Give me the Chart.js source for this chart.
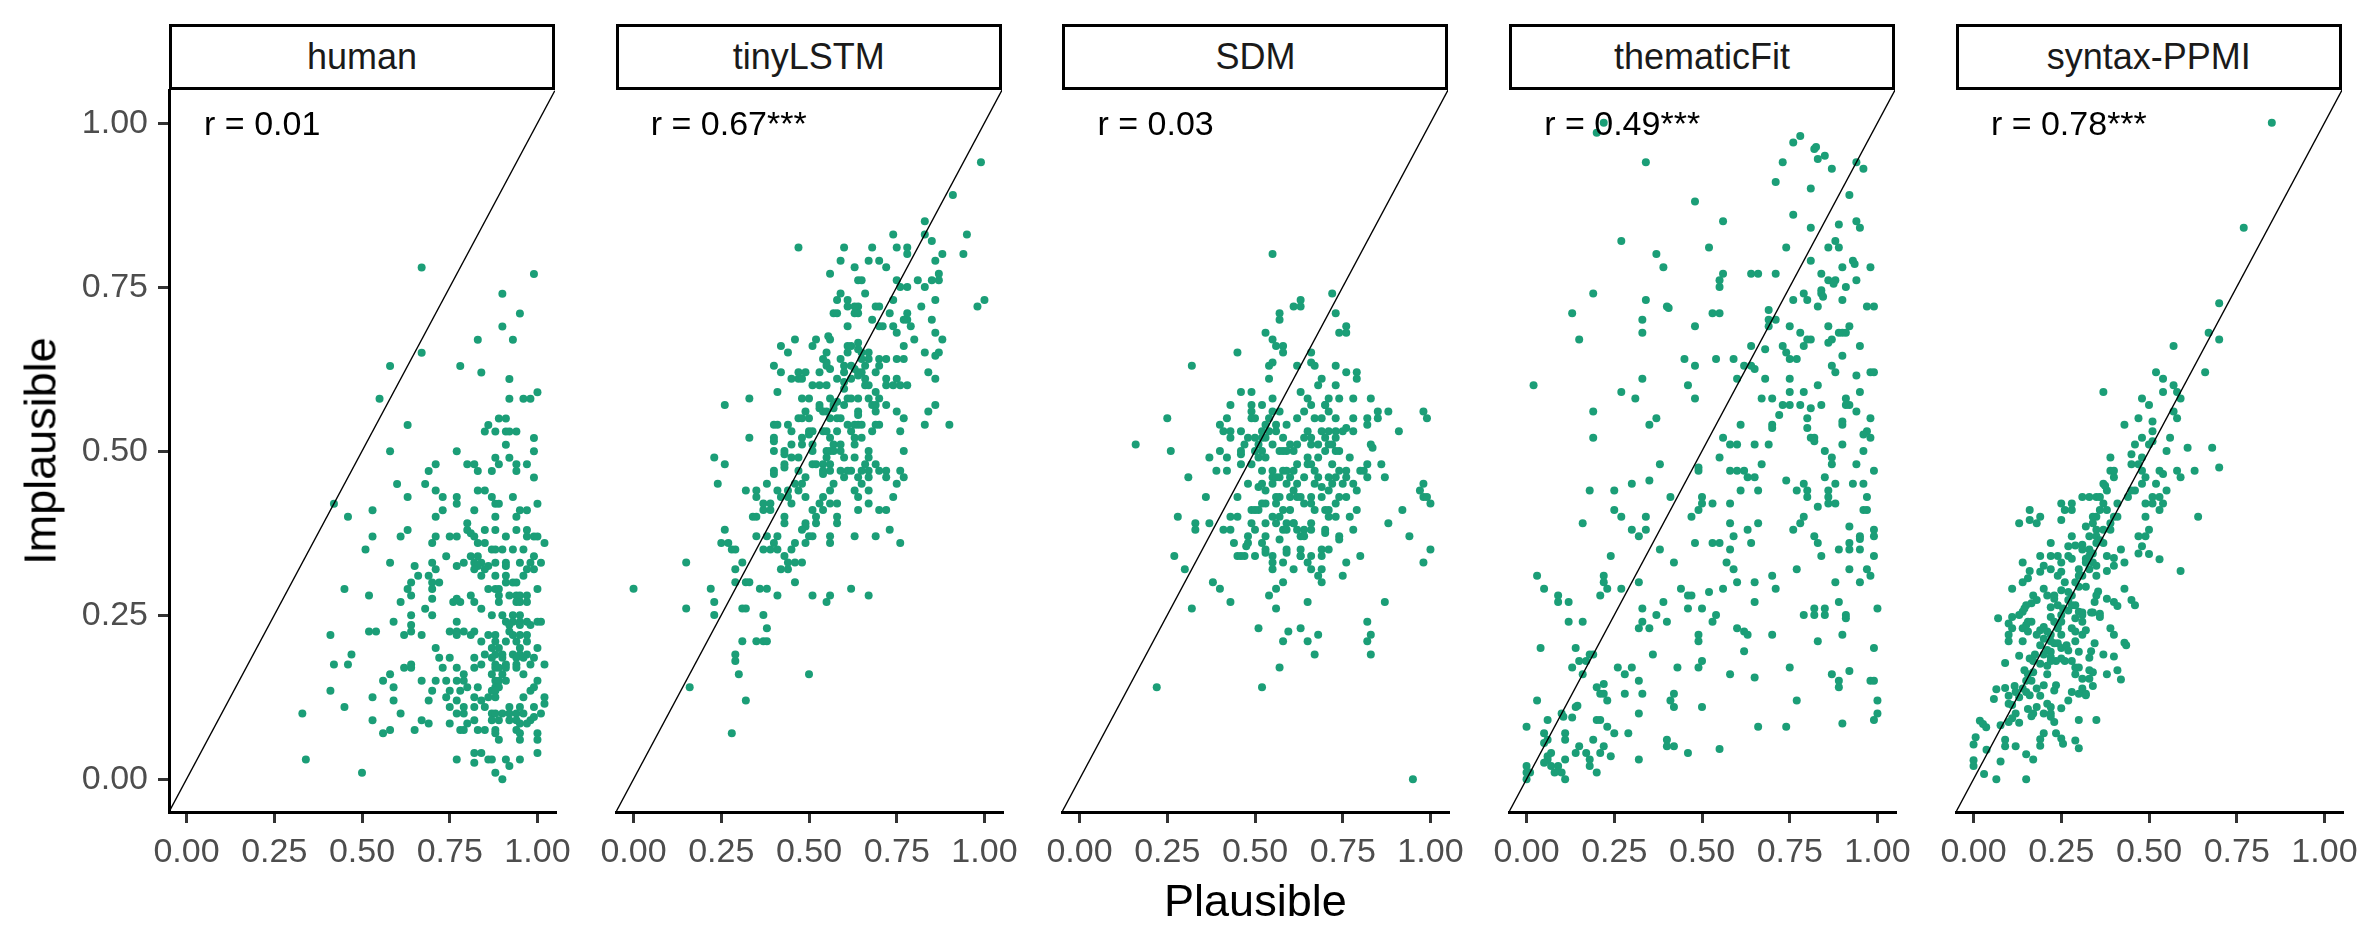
<!DOCTYPE html>
<html>
<head>
<meta charset="utf-8">
<script src="https://cdn.jsdelivr.net/npm/chart.js@4"></script>
<style>
    body { margin: 0; background: #fff; width: 2362px; height: 944px; overflow: hidden; position: relative; font-family: "Liberation Sans", Arial, sans-serif; }
    .panel { position: absolute; }
    .strip { position: absolute; top: 24px; height: 66px; box-sizing: border-box; border: 3px solid #000; background: #fff;
             display: flex; align-items: center; justify-content: center; font-size: 36px; color: #1a1a1a; }
    .corr { position: absolute; font-size: 34px; line-height: 1; color: #000; white-space: nowrap; transform: translateY(-50%); }
    .title { position: absolute; font-size: 45px; line-height: 1; color: #000; white-space: nowrap; }
</style>
</head>
<body>
<script>
// 模型名稱與相關係數標籤
const models = ['human', 'tinyLSTM', 'SDM', 'thematicFit', 'syntax-PPMI'];
const corrLabels = ['r = 0.01', 'r = 0.67***', 'r = 0.03', 'r = 0.49***', 'r = 0.78***'];

// 座標軸範圍與刻度
const axisRange = [-0.05, 1.05];
const axisTicks = [0, 0.25, 0.5, 0.75, 1];

// 每個模型的 [Plausible, Implausible] 數值
const humanPts = [[0.67,0.78],[0.99,0.77],[0.90,0.74],[0.95,0.71],[0.90,0.69],[0.93,0.67],[0.83,0.67],[0.67,0.65],[0.78,0.63],[0.58,0.63],[0.84,0.62],[0.92,0.61],[1.00,0.59],[0.96,0.58],[0.98,0.58],[0.92,0.58],[0.55,0.58],[0.89,0.55],[0.91,0.55],[0.86,0.54],[0.85,0.53],[0.91,0.53],[0.92,0.53],[0.63,0.54],[0.88,0.53],[0.94,0.53],[0.99,0.52],[0.91,0.51],[0.99,0.50],[0.58,0.50],[0.77,0.50],[0.88,0.49],[0.92,0.49],[0.80,0.48],[0.82,0.48],[0.89,0.48],[0.71,0.48],[0.94,0.48],[0.94,0.47],[0.97,0.48],[0.69,0.47],[0.83,0.47],[0.87,0.47],[0.99,0.46],[0.60,0.45],[0.68,0.45],[0.71,0.44],[0.83,0.44],[0.85,0.44],[0.63,0.43],[0.77,0.43],[0.73,0.43],[0.87,0.43],[0.93,0.43],[0.77,0.42],[0.88,0.42],[0.89,0.42],[1.00,0.42],[0.42,0.42],[0.46,0.40],[0.53,0.41],[0.71,0.40],[0.73,0.41],[0.82,0.41],[0.88,0.40],[0.94,0.40],[0.95,0.41],[0.97,0.41],[0.80,0.39],[0.80,0.38],[0.81,0.375],[0.85,0.38],[0.88,0.38],[0.94,0.38],[0.97,0.38],[0.63,0.38],[0.61,0.37],[0.53,0.37],[0.71,0.37],[0.70,0.36],[0.75,0.37],[0.77,0.37],[0.82,0.37],[0.83,0.36],[0.85,0.36],[0.91,0.37],[0.97,0.37],[0.99,0.37],[1.00,0.37],[1.02,0.36],[0.51,0.35],[0.87,0.35],[0.88,0.35],[0.90,0.35],[0.93,0.35],[0.96,0.35],[0.81,0.34],[0.83,0.34],[0.74,0.34],[0.99,0.34],[0.58,0.33],[0.70,0.33],[0.79,0.33],[0.82,0.33],[0.84,0.33],[0.88,0.33],[0.91,0.33],[0.95,0.33],[0.98,0.33],[1.01,0.33],[0.65,0.325],[0.77,0.325],[0.83,0.325],[0.86,0.325],[0.91,0.325],[0.82,0.32],[0.85,0.32],[0.71,0.32],[0.97,0.32],[0.99,0.32],[0.66,0.31],[0.69,0.31],[0.84,0.31],[0.88,0.31],[0.91,0.31],[0.96,0.31],[0.64,0.30],[0.70,0.30],[0.72,0.30],[0.91,0.30],[0.93,0.30],[0.94,0.30],[0.63,0.29],[0.70,0.29],[0.86,0.29],[0.88,0.29],[0.89,0.29],[1.00,0.29],[0.45,0.29],[0.64,0.28],[0.52,0.28],[0.81,0.28],[0.89,0.28],[0.92,0.28],[0.94,0.28],[0.95,0.28],[0.97,0.28],[0.70,0.275],[0.61,0.27],[0.76,0.27],[0.78,0.27],[0.82,0.27],[0.77,0.275],[0.89,0.27],[0.94,0.27],[0.95,0.27],[0.97,0.27],[0.68,0.26],[0.84,0.26],[0.64,0.25],[0.70,0.25],[0.87,0.25],[0.90,0.25],[0.93,0.25],[0.95,0.25],[0.59,0.24],[0.91,0.24],[0.93,0.24],[0.95,0.24],[0.97,0.24],[1.00,0.24],[1.01,0.24],[0.77,0.24],[0.64,0.235],[0.92,0.235],[0.95,0.235],[0.98,0.235],[0.52,0.225],[0.54,0.225],[0.64,0.225],[0.75,0.225],[0.77,0.225],[0.79,0.225],[0.82,0.225],[0.92,0.225],[0.41,0.22],[0.62,0.22],[0.67,0.22],[0.77,0.22],[0.81,0.22],[0.86,0.22],[0.88,0.22],[0.93,0.22],[0.95,0.22],[0.97,0.22],[0.84,0.21],[0.88,0.21],[0.91,0.21],[0.94,0.21],[0.97,0.21],[0.71,0.20],[0.87,0.20],[0.89,0.20],[0.95,0.20],[1.00,0.20],[0.47,0.19],[0.85,0.19],[0.88,0.19],[0.90,0.19],[0.93,0.19],[0.95,0.19],[0.97,0.19],[0.72,0.185],[0.75,0.185],[0.82,0.185],[0.87,0.185],[0.90,0.185],[0.94,0.185],[0.96,0.185],[0.99,0.185],[0.42,0.175],[0.46,0.175],[0.64,0.175],[0.84,0.175],[0.88,0.175],[0.91,0.175],[0.94,0.175],[0.98,0.175],[1.02,0.175],[0.62,0.17],[0.64,0.17],[0.73,0.17],[0.77,0.17],[0.82,0.17],[0.88,0.17],[0.89,0.17],[0.91,0.17],[0.94,0.17],[0.58,0.16],[0.79,0.16],[0.87,0.16],[0.90,0.16],[0.96,0.16],[0.56,0.15],[0.67,0.15],[0.71,0.15],[0.74,0.15],[0.77,0.15],[0.79,0.15],[0.88,0.15],[0.89,0.15],[0.91,0.15],[1.00,0.15],[0.59,0.14],[0.80,0.14],[0.83,0.14],[0.88,0.14],[0.89,0.14],[0.99,0.14],[0.41,0.135],[0.70,0.135],[0.75,0.135],[0.78,0.135],[0.87,0.135],[0.88,0.135],[0.98,0.135],[0.53,0.125],[0.74,0.125],[0.82,0.125],[0.86,0.125],[0.88,0.125],[0.96,0.125],[1.02,0.125],[0.59,0.12],[0.69,0.12],[0.77,0.12],[0.84,0.12],[1.02,0.115],[0.45,0.11],[0.75,0.11],[0.79,0.11],[0.82,0.11],[0.85,0.11],[0.92,0.11],[0.95,0.11],[0.99,0.11],[0.33,0.10],[0.61,0.10],[0.77,0.10],[0.79,0.10],[0.87,0.10],[0.88,0.10],[0.90,0.10],[0.92,0.10],[0.94,0.10],[0.96,0.10],[1.01,0.10],[0.53,0.09],[0.67,0.09],[0.82,0.09],[0.87,0.09],[0.89,0.09],[0.92,0.09],[0.94,0.09],[0.98,0.09],[0.99,0.095],[0.69,0.085],[0.75,0.085],[0.80,0.085],[0.95,0.085],[0.97,0.085],[0.58,0.075],[0.65,0.075],[0.78,0.075],[0.79,0.075],[0.83,0.075],[0.85,0.075],[0.88,0.075],[0.94,0.075],[0.56,0.07],[0.88,0.07],[0.95,0.07],[1.00,0.07],[0.89,0.06],[0.95,0.06],[1.00,0.06],[0.82,0.04],[0.84,0.04],[1.00,0.04],[0.34,0.03],[0.77,0.03],[0.86,0.03],[0.87,0.03],[0.91,0.03],[0.95,0.03],[0.82,0.025],[0.92,0.02],[0.50,0.01],[0.88,0.01],[0.90,0.00]];

const tinyLstmPts = [[0.99,0.94],[0.91,0.89],[0.83,0.85],[0.83,0.83],[0.95,0.83],[0.74,0.83],[0.85,0.82],[0.75,0.81],[0.78,0.81],[0.47,0.81],[0.60,0.81],[0.68,0.81],[0.78,0.80],[0.94,0.80],[0.86,0.79],[0.88,0.80],[0.59,0.79],[0.67,0.79],[0.70,0.79],[0.72,0.78],[0.63,0.78],[0.56,0.77],[0.64,0.76],[0.65,0.76],[0.87,0.77],[0.87,0.76],[0.85,0.76],[0.75,0.76],[0.78,0.75],[0.81,0.76],[0.83,0.75],[0.76,0.75],[0.66,0.74],[0.59,0.74],[0.74,0.73],[0.86,0.73],[0.58,0.73],[0.61,0.73],[0.61,0.72],[0.64,0.72],[0.63,0.71],[0.64,0.71],[0.63,0.72],[0.69,0.72],[0.70,0.72],[1.00,0.73],[0.98,0.72],[0.82,0.72],[0.57,0.71],[0.58,0.71],[0.73,0.71],[0.78,0.71],[0.78,0.70],[0.77,0.70],[0.79,0.69],[0.68,0.70],[0.74,0.69],[0.70,0.69],[0.71,0.69],[0.85,0.70],[0.61,0.69],[0.75,0.68],[0.46,0.67],[0.52,0.67],[0.51,0.66],[0.56,0.67],[0.555,0.675],[0.86,0.68],[0.80,0.67],[0.88,0.67],[0.42,0.66],[0.62,0.66],[0.64,0.665],[0.64,0.655],[0.61,0.66],[0.77,0.66],[0.44,0.65],[0.55,0.65],[0.83,0.65],[0.87,0.65],[0.86,0.645],[0.54,0.64],[0.55,0.63],[0.56,0.625],[0.55,0.635],[0.59,0.64],[0.61,0.65],[0.60,0.63],[0.62,0.63],[0.63,0.625],[0.65,0.65],[0.67,0.65],[0.65,0.64],[0.67,0.64],[0.66,0.63],[0.64,0.62],[0.65,0.62],[0.70,0.64],[0.72,0.64],[0.75,0.64],[0.77,0.64],[0.40,0.63],[0.42,0.62],[0.47,0.62],[0.49,0.62],[0.47,0.61],[0.48,0.61],[0.53,0.62],[0.60,0.62],[0.64,0.615],[0.58,0.61],[0.62,0.61],[0.69,0.62],[0.70,0.63],[0.84,0.62],[0.45,0.61],[0.51,0.60],[0.53,0.60],[0.55,0.60],[0.60,0.605],[0.60,0.595],[0.66,0.61],[0.67,0.60],[0.66,0.60],[0.69,0.59],[0.72,0.61],[0.75,0.61],[0.72,0.60],[0.74,0.60],[0.76,0.60],[0.78,0.60],[0.86,0.61],[0.33,0.58],[0.26,0.57],[0.41,0.59],[0.48,0.58],[0.50,0.58],[0.53,0.57],[0.53,0.565],[0.54,0.56],[0.56,0.58],[0.57,0.57],[0.58,0.575],[0.60,0.57],[0.55,0.56],[0.57,0.565],[0.61,0.58],[0.62,0.58],[0.64,0.58],[0.67,0.58],[0.64,0.56],[0.64,0.555],[0.68,0.57],[0.69,0.57],[0.69,0.56],[0.70,0.58],[0.72,0.57],[0.75,0.56],[0.84,0.56],[0.86,0.57],[0.77,0.55],[0.90,0.54],[0.49,0.56],[0.47,0.55],[0.48,0.55],[0.50,0.55],[0.40,0.54],[0.41,0.54],[0.44,0.54],[0.45,0.53],[0.50,0.53],[0.50,0.525],[0.51,0.53],[0.56,0.55],[0.58,0.55],[0.59,0.55],[0.61,0.54],[0.63,0.54],[0.64,0.54],[0.65,0.54],[0.70,0.54],[0.69,0.54],[0.68,0.53],[0.83,0.54],[0.76,0.53],[0.58,0.53],[0.33,0.52],[0.40,0.52],[0.40,0.515],[0.45,0.51],[0.48,0.52],[0.48,0.51],[0.51,0.51],[0.54,0.53],[0.55,0.53],[0.56,0.52],[0.57,0.51],[0.59,0.51],[0.56,0.50],[0.57,0.50],[0.62,0.53],[0.63,0.52],[0.65,0.52],[0.63,0.51],[0.23,0.49],[0.26,0.48],[0.40,0.50],[0.43,0.50],[0.43,0.495],[0.51,0.50],[0.55,0.50],[0.59,0.50],[0.67,0.50],[0.67,0.49],[0.77,0.50],[0.45,0.49],[0.47,0.49],[0.43,0.48],[0.43,0.475],[0.51,0.48],[0.52,0.48],[0.55,0.49],[0.56,0.48],[0.54,0.48],[0.60,0.49],[0.63,0.49],[0.66,0.48],[0.69,0.48],[0.40,0.47],[0.40,0.465],[0.47,0.47],[0.54,0.47],[0.54,0.465],[0.56,0.47],[0.59,0.47],[0.61,0.47],[0.62,0.47],[0.65,0.47],[0.67,0.47],[0.70,0.47],[0.72,0.47],[0.76,0.47],[0.24,0.45],[0.32,0.44],[0.35,0.44],[0.35,0.43],[0.38,0.45],[0.41,0.44],[0.42,0.43],[0.44,0.44],[0.44,0.43],[0.45,0.42],[0.46,0.45],[0.48,0.45],[0.49,0.46],[0.47,0.44],[0.49,0.43],[0.56,0.44],[0.54,0.43],[0.53,0.42],[0.54,0.41],[0.56,0.42],[0.58,0.42],[0.57,0.45],[0.60,0.46],[0.64,0.46],[0.67,0.46],[0.72,0.46],[0.65,0.45],[0.63,0.44],[0.64,0.43],[0.67,0.44],[0.75,0.45],[0.74,0.43],[0.77,0.46],[0.37,0.41],[0.37,0.42],[0.39,0.42],[0.39,0.41],[0.34,0.40],[0.35,0.40],[0.51,0.41],[0.52,0.40],[0.58,0.40],[0.64,0.41],[0.67,0.42],[0.70,0.41],[0.72,0.41],[0.43,0.40],[0.43,0.39],[0.49,0.39],[0.49,0.385],[0.48,0.38],[0.52,0.39],[0.58,0.39],[0.73,0.38],[0.26,0.38],[0.50,0.37],[0.51,0.37],[0.63,0.37],[0.69,0.37],[0.76,0.36],[0.35,0.37],[0.38,0.37],[0.41,0.37],[0.25,0.36],[0.27,0.36],[0.28,0.35],[0.29,0.35],[0.40,0.36],[0.41,0.35],[0.37,0.35],[0.39,0.35],[0.46,0.36],[0.45,0.35],[0.49,0.36],[0.56,0.37],[0.56,0.36],[0.15,0.33],[0.31,0.33],[0.29,0.32],[0.43,0.34],[0.44,0.33],[0.46,0.33],[0.42,0.32],[0.44,0.32],[0.48,0.33],[0.00,0.29],[0.22,0.29],[0.29,0.30],[0.32,0.30],[0.33,0.30],[0.36,0.29],[0.38,0.29],[0.41,0.28],[0.46,0.30],[0.51,0.28],[0.56,0.28],[0.55,0.27],[0.62,0.29],[0.67,0.28],[0.15,0.26],[0.23,0.27],[0.23,0.25],[0.31,0.26],[0.32,0.26],[0.37,0.25],[0.38,0.23],[0.35,0.21],[0.37,0.21],[0.38,0.21],[0.31,0.21],[0.29,0.19],[0.29,0.18],[0.30,0.16],[0.50,0.16],[0.16,0.14],[0.32,0.12],[0.28,0.07]];

const sdmPts = [[0.55,0.80],[0.72,0.74],[0.61,0.72],[0.63,0.73],[0.63,0.72],[0.57,0.71],[0.73,0.71],[0.57,0.70],[0.76,0.69],[0.76,0.68],[0.74,0.68],[0.53,0.68],[0.55,0.67],[0.58,0.66],[0.56,0.66],[0.58,0.65],[0.45,0.65],[0.66,0.65],[0.32,0.63],[0.54,0.63],[0.55,0.635],[0.62,0.63],[0.66,0.635],[0.67,0.63],[0.73,0.63],[0.76,0.62],[0.79,0.62],[0.69,0.61],[0.54,0.61],[0.79,0.61],[0.68,0.60],[0.73,0.60],[0.46,0.59],[0.49,0.59],[0.63,0.59],[0.55,0.58],[0.71,0.58],[0.78,0.58],[0.43,0.57],[0.52,0.57],[0.65,0.58],[0.66,0.57],[0.70,0.57],[0.74,0.58],[0.83,0.58],[0.49,0.57],[0.49,0.56],[0.70,0.57],[0.88,0.56],[0.98,0.56],[0.99,0.55],[0.55,0.56],[0.57,0.56],[0.54,0.55],[0.56,0.54],[0.64,0.56],[0.67,0.55],[0.69,0.55],[0.71,0.56],[0.73,0.55],[0.78,0.55],[0.82,0.55],[0.82,0.54],[0.85,0.56],[0.85,0.55],[0.25,0.55],[0.40,0.54],[0.42,0.55],[0.41,0.53],[0.43,0.53],[0.43,0.52],[0.49,0.55],[0.50,0.55],[0.62,0.55],[0.91,0.53],[0.53,0.54],[0.52,0.53],[0.54,0.53],[0.59,0.54],[0.58,0.52],[0.56,0.53],[0.65,0.53],[0.69,0.53],[0.71,0.53],[0.70,0.52],[0.73,0.53],[0.75,0.53],[0.76,0.535],[0.78,0.53],[0.46,0.53],[0.48,0.52],[0.47,0.51],[0.50,0.52],[0.52,0.52],[0.51,0.51],[0.53,0.52],[0.55,0.51],[0.16,0.51],[0.26,0.50],[0.60,0.51],[0.62,0.51],[0.59,0.50],[0.57,0.50],[0.58,0.50],[0.61,0.50],[0.64,0.52],[0.66,0.52],[0.66,0.51],[0.68,0.51],[0.71,0.51],[0.72,0.51],[0.73,0.52],[0.74,0.50],[0.73,0.50],[0.70,0.50],[0.77,0.49],[0.83,0.51],[0.835,0.505],[0.40,0.50],[0.37,0.49],[0.42,0.49],[0.46,0.50],[0.46,0.495],[0.50,0.50],[0.52,0.50],[0.51,0.49],[0.53,0.49],[0.65,0.49],[0.62,0.48],[0.65,0.48],[0.68,0.49],[0.39,0.47],[0.42,0.47],[0.46,0.48],[0.49,0.48],[0.52,0.47],[0.55,0.47],[0.58,0.47],[0.61,0.47],[0.57,0.46],[0.59,0.47],[0.66,0.48],[0.67,0.47],[0.68,0.46],[0.64,0.46],[0.72,0.48],[0.71,0.46],[0.73,0.46],[0.76,0.47],[0.76,0.46],[0.74,0.47],[0.80,0.47],[0.81,0.47],[0.82,0.48],[0.86,0.48],[0.82,0.46],[0.87,0.46],[0.31,0.46],[0.55,0.46],[0.55,0.45],[0.56,0.46],[0.60,0.46],[0.62,0.45],[0.59,0.45],[0.61,0.44],[0.48,0.45],[0.51,0.445],[0.52,0.45],[0.53,0.44],[0.67,0.45],[0.69,0.445],[0.71,0.44],[0.72,0.45],[0.75,0.45],[0.78,0.45],[0.98,0.45],[0.97,0.44],[0.98,0.43],[0.99,0.43],[1.00,0.42],[0.36,0.43],[0.45,0.43],[0.79,0.44],[0.76,0.43],[0.74,0.43],[0.56,0.43],[0.57,0.43],[0.60,0.43],[0.62,0.43],[0.63,0.43],[0.66,0.43],[0.69,0.43],[0.53,0.42],[0.52,0.42],[0.51,0.41],[0.49,0.41],[0.50,0.41],[0.56,0.42],[0.58,0.41],[0.60,0.41],[0.64,0.42],[0.66,0.42],[0.67,0.41],[0.70,0.41],[0.71,0.41],[0.73,0.42],[0.79,0.41],[0.92,0.41],[0.55,0.40],[0.57,0.40],[0.59,0.39],[0.61,0.39],[0.43,0.40],[0.45,0.40],[0.28,0.40],[0.33,0.39],[0.37,0.39],[0.49,0.39],[0.66,0.39],[0.71,0.40],[0.73,0.40],[0.77,0.40],[0.88,0.39],[0.56,0.39],[0.58,0.38],[0.61,0.39],[0.53,0.39],[0.33,0.38],[0.41,0.38],[0.43,0.38],[0.64,0.38],[0.66,0.38],[0.62,0.38],[0.70,0.38],[0.70,0.375],[0.78,0.38],[0.50,0.38],[0.53,0.37],[0.59,0.38],[0.48,0.37],[0.48,0.36],[0.475,0.355],[0.63,0.37],[0.64,0.37],[0.57,0.365],[0.74,0.37],[0.74,0.365],[0.94,0.37],[0.44,0.36],[0.52,0.36],[0.53,0.35],[0.53,0.345],[0.59,0.35],[0.59,0.345],[0.63,0.35],[0.63,0.34],[0.69,0.35],[0.71,0.35],[0.69,0.34],[1.00,0.35],[0.27,0.34],[0.45,0.34],[0.46,0.34],[0.47,0.34],[0.50,0.34],[0.55,0.34],[0.55,0.33],[0.58,0.33],[0.63,0.34],[0.66,0.34],[0.65,0.33],[0.76,0.33],[0.80,0.34],[0.98,0.33],[0.30,0.32],[0.55,0.32],[0.61,0.32],[0.66,0.32],[0.69,0.32],[0.68,0.31],[0.75,0.31],[0.38,0.30],[0.40,0.29],[0.58,0.30],[0.56,0.29],[0.69,0.30],[0.43,0.27],[0.54,0.28],[0.65,0.27],[0.87,0.27],[0.32,0.26],[0.56,0.26],[0.51,0.23],[0.82,0.24],[0.595,0.225],[0.63,0.23],[0.68,0.22],[0.58,0.21],[0.65,0.21],[0.83,0.22],[0.82,0.21],[0.83,0.19],[0.67,0.19],[0.57,0.17],[0.22,0.14],[0.52,0.14],[0.95,0.00]];

const thematicPts = [[0.22,1.00],[0.20,0.985],[0.78,0.98],[0.76,0.97],[0.82,0.96],[0.825,0.963],[0.83,0.945],[0.85,0.95],[0.73,0.94],[0.87,0.93],[0.94,0.94],[0.96,0.93],[0.34,0.94],[0.71,0.91],[0.81,0.90],[0.92,0.89],[0.48,0.88],[0.76,0.86],[0.56,0.85],[0.94,0.85],[0.95,0.84],[0.89,0.845],[0.81,0.84],[0.27,0.82],[0.88,0.82],[0.89,0.81],[0.86,0.81],[0.74,0.81],[0.52,0.81],[0.37,0.80],[0.39,0.78],[0.81,0.79],[0.93,0.79],[0.935,0.785],[0.98,0.78],[0.64,0.77],[0.66,0.77],[0.71,0.77],[0.56,0.77],[0.55,0.76],[0.55,0.75],[0.84,0.77],[0.90,0.78],[0.86,0.76],[0.88,0.76],[0.875,0.755],[0.94,0.76],[0.91,0.75],[0.84,0.745],[0.84,0.74],[0.845,0.735],[0.79,0.74],[0.80,0.73],[0.76,0.73],[0.19,0.74],[0.34,0.73],[0.40,0.72],[0.405,0.718],[0.90,0.73],[0.83,0.72],[0.97,0.72],[0.99,0.72],[0.13,0.71],[0.55,0.71],[0.53,0.71],[0.69,0.715],[0.33,0.70],[0.69,0.70],[0.71,0.70],[0.69,0.69],[0.75,0.69],[0.92,0.69],[0.48,0.69],[0.86,0.69],[0.89,0.68],[0.91,0.68],[0.90,0.68],[0.33,0.68],[0.15,0.67],[0.78,0.68],[0.81,0.67],[0.80,0.67],[0.87,0.67],[0.86,0.665],[0.64,0.66],[0.95,0.66],[0.73,0.66],[0.68,0.655],[0.79,0.66],[0.74,0.65],[0.75,0.64],[0.77,0.64],[0.90,0.645],[0.59,0.64],[0.45,0.64],[0.54,0.64],[0.48,0.63],[0.64,0.63],[0.65,0.625],[0.62,0.63],[0.87,0.63],[0.02,0.60],[0.33,0.61],[0.60,0.61],[0.75,0.61],[0.88,0.62],[0.94,0.615],[0.98,0.62],[0.99,0.62],[0.68,0.61],[0.83,0.60],[0.46,0.60],[0.27,0.59],[0.31,0.58],[0.48,0.58],[0.75,0.59],[0.79,0.59],[0.95,0.59],[0.67,0.58],[0.70,0.58],[0.75,0.57],[0.78,0.57],[0.73,0.57],[0.72,0.555],[0.84,0.57],[0.81,0.565],[0.91,0.58],[0.92,0.57],[0.91,0.57],[0.94,0.56],[0.19,0.56],[0.37,0.55],[0.35,0.54],[0.61,0.54],[0.70,0.54],[0.70,0.535],[0.80,0.55],[0.80,0.535],[0.90,0.545],[0.90,0.54],[0.98,0.55],[0.97,0.53],[0.96,0.525],[0.98,0.52],[0.19,0.52],[0.56,0.52],[0.58,0.51],[0.60,0.51],[0.81,0.52],[0.82,0.52],[0.82,0.515],[0.65,0.51],[0.69,0.51],[0.90,0.51],[0.85,0.50],[0.87,0.49],[0.96,0.50],[0.55,0.49],[0.87,0.48],[0.38,0.48],[0.49,0.475],[0.49,0.47],[0.94,0.48],[0.99,0.47],[0.58,0.47],[0.60,0.47],[0.62,0.47],[0.63,0.46],[0.65,0.46],[0.67,0.48],[0.18,0.44],[0.25,0.44],[0.30,0.45],[0.35,0.455],[0.41,0.43],[0.74,0.455],[0.77,0.44],[0.79,0.45],[0.80,0.44],[0.80,0.43],[0.85,0.46],[0.88,0.45],[0.86,0.44],[0.86,0.43],[0.86,0.42],[0.88,0.42],[0.93,0.45],[0.96,0.45],[0.97,0.43],[0.50,0.43],[0.50,0.42],[0.49,0.41],[0.47,0.40],[0.53,0.42],[0.58,0.42],[0.61,0.44],[0.66,0.44],[0.83,0.415],[0.96,0.41],[0.97,0.41],[0.16,0.39],[0.25,0.41],[0.27,0.40],[0.34,0.40],[0.30,0.38],[0.32,0.37],[0.34,0.38],[0.38,0.35],[0.58,0.39],[0.63,0.38],[0.66,0.39],[0.59,0.37],[0.48,0.36],[0.53,0.36],[0.55,0.36],[0.64,0.36],[0.76,0.38],[0.78,0.39],[0.79,0.40],[0.82,0.37],[0.83,0.36],[0.84,0.34],[0.89,0.35],[0.92,0.385],[0.95,0.37],[0.95,0.366],[0.92,0.36],[0.92,0.35],[0.95,0.35],[0.99,0.38],[0.99,0.37],[0.99,0.34],[0.24,0.34],[0.58,0.35],[0.57,0.33],[0.59,0.32],[0.42,0.33],[0.03,0.31],[0.05,0.29],[0.09,0.28],[0.09,0.27],[0.12,0.27],[0.22,0.31],[0.22,0.30],[0.23,0.29],[0.21,0.28],[0.27,0.29],[0.32,0.30],[0.77,0.32],[0.92,0.32],[0.97,0.32],[0.98,0.31],[0.95,0.30],[0.70,0.31],[0.60,0.30],[0.65,0.30],[0.71,0.29],[0.88,0.30],[0.44,0.29],[0.46,0.28],[0.47,0.28],[0.52,0.285],[0.56,0.29],[0.65,0.27],[0.33,0.26],[0.39,0.27],[0.37,0.25],[0.46,0.26],[0.50,0.26],[0.54,0.25],[0.12,0.24],[0.16,0.24],[0.32,0.23],[0.33,0.24],[0.35,0.23],[0.40,0.24],[0.53,0.24],[0.79,0.25],[0.82,0.26],[0.82,0.25],[0.85,0.25],[0.85,0.26],[0.89,0.27],[0.91,0.25],[0.91,0.245],[1.00,0.26],[0.60,0.23],[0.62,0.225],[0.63,0.22],[0.70,0.22],[0.49,0.22],[0.49,0.21],[0.90,0.22],[0.04,0.20],[0.14,0.20],[0.15,0.18],[0.13,0.17],[0.18,0.19],[0.19,0.19],[0.17,0.18],[0.36,0.19],[0.62,0.195],[0.83,0.21],[0.99,0.20],[0.16,0.16],[0.26,0.17],[0.28,0.16],[0.30,0.17],[0.32,0.15],[0.43,0.17],[0.50,0.18],[0.49,0.17],[0.58,0.16],[0.65,0.155],[0.75,0.17],[0.87,0.16],[0.92,0.165],[0.89,0.15],[0.89,0.14],[0.98,0.15],[0.99,0.15],[0.03,0.12],[0.20,0.14],[0.22,0.145],[0.21,0.13],[0.22,0.13],[0.23,0.12],[0.28,0.13],[0.33,0.13],[0.42,0.13],[0.41,0.12],[0.42,0.11],[0.50,0.11],[0.77,0.12],[1.00,0.12],[1.00,0.10],[0.99,0.09],[0.90,0.085],[0.74,0.08],[0.66,0.08],[0.10,0.10],[0.105,0.095],[0.14,0.11],[0.145,0.112],[0.13,0.094],[0.00,0.08],[0.06,0.09],[0.05,0.07],[0.06,0.06],[0.05,0.055],[0.11,0.07],[0.11,0.06],[0.20,0.09],[0.21,0.09],[0.23,0.08],[0.19,0.06],[0.25,0.07],[0.29,0.07],[0.32,0.10],[0.15,0.05],[0.14,0.04],[0.22,0.05],[0.21,0.04],[0.17,0.04],[0.18,0.03],[0.18,0.02],[0.24,0.035],[0.20,0.01],[0.32,0.03],[0.40,0.06],[0.40,0.05],[0.42,0.05],[0.46,0.04],[0.55,0.046],[0.07,0.04],[0.06,0.035],[0.06,0.03],[0.05,0.025],[0.11,0.03],[0.07,0.02],[0.08,0.01],[0.09,0.02],[0.10,0.01],[0.11,0.00],[0.09,0.012],[0.00,0.02],[0.01,0.01],[0.00,0.01],[0.00,0.00]];

const syntaxPpmiPts = [[0.85,1.00],[0.77,0.84],[0.70,0.725],[0.67,0.68],[0.70,0.67],[0.57,0.66],[0.66,0.62],[0.52,0.62],[0.54,0.61],[0.57,0.60],[0.58,0.59],[0.37,0.59],[0.54,0.59],[0.48,0.58],[0.50,0.57],[0.59,0.58],[0.47,0.55],[0.57,0.56],[0.58,0.55],[0.51,0.545],[0.43,0.54],[0.51,0.53],[0.48,0.52],[0.56,0.52],[0.46,0.51],[0.50,0.51],[0.51,0.515],[0.61,0.505],[0.68,0.505],[0.55,0.50],[0.45,0.495],[0.48,0.49],[0.39,0.49],[0.45,0.48],[0.47,0.48],[0.53,0.47],[0.54,0.465],[0.58,0.47],[0.59,0.46],[0.63,0.47],[0.70,0.475],[0.39,0.47],[0.40,0.47],[0.40,0.46],[0.48,0.47],[0.49,0.46],[0.48,0.45],[0.46,0.44],[0.45,0.44],[0.52,0.45],[0.55,0.44],[0.37,0.45],[0.38,0.44],[0.375,0.447],[0.35,0.43],[0.36,0.43],[0.33,0.43],[0.31,0.43],[0.41,0.42],[0.44,0.43],[0.51,0.43],[0.53,0.43],[0.54,0.42],[0.49,0.42],[0.51,0.42],[0.53,0.41],[0.25,0.42],[0.28,0.42],[0.26,0.41],[0.28,0.41],[0.16,0.41],[0.37,0.42],[0.36,0.41],[0.38,0.41],[0.35,0.40],[0.34,0.40],[0.40,0.40],[0.41,0.40],[0.39,0.39],[0.13,0.39],[0.16,0.395],[0.18,0.39],[0.19,0.40],[0.25,0.395],[0.49,0.40],[0.64,0.40],[0.32,0.385],[0.34,0.39],[0.35,0.38],[0.37,0.38],[0.39,0.38],[0.50,0.38],[0.49,0.37],[0.47,0.37],[0.28,0.37],[0.33,0.37],[0.35,0.37],[0.36,0.364],[0.37,0.36],[0.35,0.36],[0.22,0.36],[0.27,0.355],[0.29,0.356],[0.31,0.357],[0.31,0.35],[0.33,0.35],[0.34,0.344],[0.42,0.35],[0.48,0.355],[0.47,0.344],[0.50,0.343],[0.53,0.335],[0.19,0.34],[0.22,0.34],[0.24,0.34],[0.25,0.33],[0.27,0.34],[0.28,0.336],[0.32,0.336],[0.33,0.34],[0.32,0.33],[0.34,0.33],[0.35,0.325],[0.33,0.32],[0.38,0.34],[0.40,0.337],[0.38,0.317],[0.40,0.325],[0.43,0.33],[0.59,0.317],[0.14,0.33],[0.20,0.325],[0.19,0.316],[0.22,0.32],[0.24,0.31],[0.25,0.316],[0.16,0.317],[0.155,0.306],[0.14,0.30],[0.11,0.29],[0.30,0.32],[0.31,0.31],[0.30,0.31],[0.29,0.30],[0.30,0.293],[0.32,0.293],[0.35,0.31],[0.26,0.30],[0.20,0.29],[0.21,0.28],[0.23,0.28],[0.23,0.275],[0.25,0.288],[0.27,0.285],[0.28,0.28],[0.27,0.273],[0.355,0.286],[0.35,0.28],[0.345,0.27],[0.43,0.29],[0.38,0.275],[0.40,0.27],[0.41,0.264],[0.45,0.273],[0.46,0.265],[0.17,0.28],[0.18,0.273],[0.165,0.268],[0.15,0.265],[0.14,0.255],[0.145,0.26],[0.13,0.25],[0.22,0.262],[0.24,0.265],[0.255,0.26],[0.25,0.25],[0.27,0.257],[0.28,0.265],[0.29,0.265],[0.30,0.255],[0.31,0.254],[0.335,0.254],[0.34,0.254],[0.36,0.252],[0.36,0.247],[0.07,0.245],[0.11,0.247],[0.10,0.237],[0.11,0.23],[0.10,0.22],[0.10,0.21],[0.155,0.24],[0.165,0.24],[0.15,0.235],[0.14,0.23],[0.22,0.247],[0.23,0.24],[0.24,0.235],[0.25,0.24],[0.29,0.245],[0.31,0.24],[0.31,0.25],[0.155,0.225],[0.19,0.227],[0.20,0.232],[0.21,0.225],[0.22,0.22],[0.24,0.23],[0.25,0.22],[0.28,0.23],[0.29,0.225],[0.31,0.22],[0.32,0.227],[0.29,0.21],[0.18,0.22],[0.20,0.214],[0.22,0.21],[0.23,0.207],[0.39,0.23],[0.40,0.22],[0.14,0.21],[0.19,0.204],[0.21,0.197],[0.22,0.194],[0.20,0.19],[0.22,0.186],[0.24,0.207],[0.25,0.20],[0.265,0.204],[0.27,0.196],[0.25,0.184],[0.235,0.18],[0.26,0.18],[0.30,0.194],[0.335,0.195],[0.33,0.185],[0.345,0.207],[0.43,0.208],[0.435,0.204],[0.37,0.19],[0.40,0.187],[0.13,0.188],[0.175,0.19],[0.16,0.184],[0.17,0.18],[0.09,0.177],[0.19,0.176],[0.21,0.173],[0.22,0.18],[0.28,0.18],[0.29,0.17],[0.30,0.17],[0.29,0.16],[0.31,0.153],[0.33,0.166],[0.34,0.163],[0.33,0.153],[0.38,0.16],[0.41,0.166],[0.42,0.152],[0.145,0.166],[0.155,0.16],[0.17,0.163],[0.165,0.15],[0.15,0.15],[0.21,0.16],[0.065,0.137],[0.09,0.139],[0.117,0.142],[0.10,0.127],[0.058,0.122],[0.14,0.138],[0.15,0.133],[0.16,0.128],[0.18,0.138],[0.12,0.133],[0.13,0.125],[0.20,0.143],[0.235,0.143],[0.23,0.135],[0.19,0.127],[0.28,0.133],[0.30,0.13],[0.31,0.138],[0.32,0.13],[0.32,0.128],[0.34,0.142],[0.27,0.12],[0.10,0.115],[0.11,0.113],[0.155,0.107],[0.17,0.10],[0.18,0.11],[0.165,0.096],[0.21,0.115],[0.22,0.11],[0.22,0.10],[0.25,0.108],[0.20,0.10],[0.12,0.10],[0.11,0.093],[0.10,0.087],[0.13,0.086],[0.018,0.089],[0.027,0.084],[0.036,0.079],[0.077,0.082],[0.22,0.095],[0.23,0.087],[0.30,0.09],[0.35,0.09],[0.235,0.07],[0.006,0.064],[0.00,0.053],[0.09,0.06],[0.09,0.05],[0.12,0.05],[0.20,0.07],[0.19,0.061],[0.19,0.051],[0.25,0.062],[0.255,0.054],[0.29,0.059],[0.30,0.047],[0.037,0.045],[0.15,0.038],[0.00,0.029],[0.00,0.02],[0.077,0.027],[0.17,0.03],[0.03,0.008],[0.065,0.00],[0.15,0.00]];

const panelPoints = [humanPts, tinyLstmPts, sdmPts, thematicPts, syntaxPpmiPts];

// 版面設定
const PANEL_LEFT = 169;
const PANEL_STEP = 446.7;
const PANEL_W = 386;
const PANEL_TOP = 90;
const PANEL_H = 722;
const SIDE_PAD = 36;
const TOP_PAD = 30;
const X_AXIS_H = 80;
const Y_AXIS_W = 169;
const FONT = '"Liberation Sans", Arial, sans-serif';
const POINT_COLOR = '#1B9E77';

function tickFormat(v) {
    return Number(v).toFixed(2);
}

// 建立單一分面
function buildPanel(name, idx) {
    const plotLeft = PANEL_LEFT + PANEL_STEP * idx;
    const padL = idx === 0 ? 0 : SIDE_PAD;
    const yw = idx === 0 ? Y_AXIS_W : 0;
    const boxLeft = plotLeft - padL - yw;
    const boxTop = PANEL_TOP - TOP_PAD;
    const w = padL + yw + PANEL_W + SIDE_PAD;
    const h = TOP_PAD + PANEL_H + X_AXIS_H;

    const box = document.createElement('div');
    box.className = 'panel';
    box.style.left = boxLeft + 'px';
    box.style.top = boxTop + 'px';
    box.style.width = w + 'px';
    box.style.height = h + 'px';
    const canvas = document.createElement('canvas');
    canvas.width = w;
    canvas.height = h;
    canvas.style.width = w + 'px';
    canvas.style.height = h + 'px';
    box.appendChild(canvas);
    document.body.appendChild(box);

    // 分面標題
    const strip = document.createElement('div');
    strip.className = 'strip';
    strip.style.left = plotLeft + 'px';
    strip.style.width = PANEL_W + 'px';
    strip.textContent = name;
    document.body.appendChild(strip);

    const yScale = {
        type: 'linear',
        display: idx === 0,
        min: axisRange[0],
        max: axisRange[1],
        afterBuildTicks: s => { s.ticks = axisTicks.map(v => ({ value: v })); },
        border: { display: true, color: '#000', width: 3 },
        grid: { display: true, drawOnChartArea: false, drawTicks: true, tickLength: 11, color: '#333', lineWidth: 3 },
        ticks: { color: '#4d4d4d', font: { family: FONT, size: 34 }, padding: 10, autoSkip: false, callback: tickFormat }
    };
    if (idx === 0) {
        yScale.afterFit = s => { s.width = Y_AXIS_W; };
    }

    const chart = new Chart(canvas.getContext('2d'), {
        type: 'scatter',
        data: {
            datasets: [
                {
                    data: panelPoints[idx].map(p => ({ x: p[0], y: p[1] })),
                    pointRadius: 4,
                    pointBackgroundColor: POINT_COLOR,
                    pointBorderWidth: 0,
                    order: 1
                },
                {
                    type: 'line',
                    data: axisRange.map(v => ({ x: v, y: v })),
                    borderColor: '#000',
                    borderWidth: 1.3,
                    pointRadius: 0,
                    fill: false,
                    order: 0
                }
            ]
        },
        options: {
            responsive: false,
            animation: false,
            devicePixelRatio: 1,
            layout: { padding: { left: padL, right: SIDE_PAD, top: TOP_PAD, bottom: 0 }, autoPadding: false },
            plugins: { legend: { display: false }, tooltip: { enabled: false } },
            scales: {
                x: {
                    type: 'linear',
                    min: axisRange[0],
                    max: axisRange[1],
                    afterBuildTicks: s => { s.ticks = axisTicks.map(v => ({ value: v })); },
                    afterFit: s => { s.height = X_AXIS_H; },
                    border: { display: true, color: '#000', width: 3 },
                    grid: { display: true, drawOnChartArea: false, drawTicks: true, tickLength: 11, color: '#333', lineWidth: 3 },
                    ticks: { color: '#4d4d4d', font: { family: FONT, size: 34 }, padding: 9, maxRotation: 0, autoSkip: false, callback: tickFormat }
                },
                y: yScale
            }
        }
    });

    // 相關係數標籤
    const corr = document.createElement('div');
    corr.className = 'corr';
    corr.style.left = (boxLeft + chart.scales.x.getPixelForValue(0.05)) + 'px';
    corr.style.top = (boxTop + chart.scales.y.getPixelForValue(1.0)) + 'px';
    corr.textContent = corrLabels[idx];
    document.body.appendChild(corr);
}

models.forEach((name, i) => buildPanel(name, i));

// 座標軸標題
const xTitle = document.createElement('div');
xTitle.className = 'title';
xTitle.textContent = 'Plausible';
xTitle.style.left = (PANEL_LEFT + (PANEL_STEP * 4 + PANEL_W) / 2) + 'px';
xTitle.style.top = '900px';
xTitle.style.transform = 'translate(-50%, -50%)';
document.body.appendChild(xTitle);

const yTitle = document.createElement('div');
yTitle.className = 'title';
yTitle.textContent = 'Implausible';
yTitle.style.left = '40px';
yTitle.style.top = (PANEL_TOP + PANEL_H / 2) + 'px';
yTitle.style.transform = 'translate(-50%, -50%) rotate(-90deg)';
document.body.appendChild(yTitle);
</script>
</body>
</html>
